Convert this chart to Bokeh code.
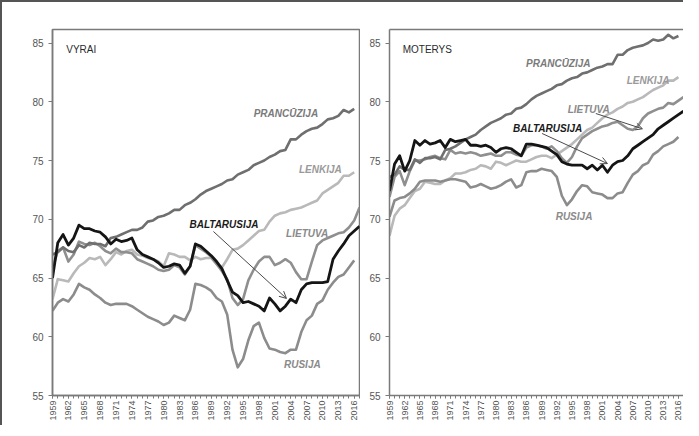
import math
from bokeh.plotting import figure
from bokeh.models import (ColumnDataSource, Range1d, FixedTicker, LinearAxis, Arrow, OpenHead)
from bokeh.layouts import row
from bokeh.core.properties import value
from bokeh.embed import file_html
from bokeh.resources import INLINE

N = None
years = list(range(1959, 2018))
tick_years = list(range(1959, 2017, 3))
y_ticks = [55, 60, 65, 70, 75, 80, 85]

# ---------------- VYRAI (men) ----------------
m_france = [67.0, 67.2, 67.6, 67.3, 67.2, 67.8, 67.6, 68.0, 67.9, 67.9, 67.7, 68.4, 68.5, 68.7, 68.9, 69.1, 69.1, 69.3, 69.8, 69.9,
            70.2, 70.3, 70.5, 70.8, 70.8, 71.2, 71.4, 71.7, 72.1, 72.4, 72.6, 72.8, 73.0, 73.3, 73.4, 73.8, 74.0, 74.2, 74.6, 74.8,
            75.0, 75.3, 75.5, 75.8, 75.9, 76.8, 76.8, 77.2, 77.5, 77.7, 77.8, 78.1, 78.5, 78.6, 78.8, 79.3, 79.1, 79.4, N]
m_belarus = [65.0, 68.0, 68.7, 67.8, 68.4, 69.5, 69.2, 69.2, 69.0, 68.9, 68.5, 67.9, 68.3, 68.1, 68.2, 68.4, 67.4, 67.0, 66.8, 66.6,
             66.3, 65.9, 66.0, 66.2, 66.1, 65.4, 66.0, 67.9, 67.7, 67.3, 66.9, 66.4, 65.8, 64.8, 63.8, 63.5, 62.9, 63.0, 62.8, 62.6,
             62.2, 63.3, 62.8, 62.2, 62.6, 63.2, 62.9, 64.0, 64.5, 64.6, 64.6, 64.6, 64.7, 66.6, 67.3, 67.9, 68.6, 69.0, 69.4]
m_lithuania = [65.8, 67.3, 67.6, 66.4, 67.0, 68.1, 67.9, 67.8, 68.0, 67.7, 67.3, 67.1, 67.5, 67.2, 67.2, 67.1, 66.6, 66.4, 66.2, 66.0,
               65.7, 65.6, 65.7, 66.1, 65.9, 65.3, 66.0, 67.8, 67.5, 67.2, 66.8, 66.2, 65.6, 64.9, 63.3, 62.7, 63.2, 64.8, 65.7, 66.4,
               66.8, 66.8, 66.1, 66.3, 66.6, 66.3, 65.5, 64.9, 64.9, 66.4, 67.8, 68.2, 68.4, 68.6, 68.8, 68.9, 69.3, 69.9, 71.0]
m_poland = [63.2, 64.9, 64.8, 64.7, 65.4, 66.0, 66.3, 66.7, 66.6, 66.8, 66.1, 66.6, 67.2, 67.0, 67.3, 67.4, 67.0, 66.9, 66.7, 66.6,
            66.4, 66.0, 67.1, 67.0, 66.8, 66.8, 66.5, 66.8, 66.6, 66.7, 66.7, 66.2, 65.9, 66.6, 67.4, 67.5, 67.8, 68.2, 68.6, 69.0,
            69.1, 69.8, 70.3, 70.5, 70.6, 70.8, 70.9, 71.0, 71.2, 71.4, 71.6, 72.2, 72.5, 72.8, 73.1, 73.7, 73.7, 74.0, N]
m_russia = [62.2, 62.9, 63.2, 63.0, 63.6, 64.5, 64.2, 64.0, 63.6, 63.3, 62.9, 62.7, 62.8, 62.8, 62.8, 62.6, 62.3, 62.0, 61.7, 61.5,
            61.3, 61.0, 61.2, 61.8, 61.6, 61.4, 62.3, 64.5, 64.4, 64.2, 63.9, 63.3, 63.0, 61.9, 58.9, 57.4, 58.1, 59.7, 60.9, 61.2,
            59.9, 59.0, 58.9, 58.7, 58.6, 58.9, 58.9, 60.4, 61.4, 61.8, 62.8, 63.1, 64.0, 64.6, 65.1, 65.3, 65.9, 66.5, N]

# ---------------- MOTERYS (women) ----------------
w_france = [73.6, 73.8, 74.5, 74.2, 74.2, 75.1, 74.8, 75.2, 75.2, 75.3, 75.1, 75.9, 76.0, 76.2, 76.5, 76.8, 77.0, 77.2, 77.6, 77.9,
            78.2, 78.4, 78.6, 78.9, 79.0, 79.4, 79.5, 79.8, 80.2, 80.5, 80.7, 80.9, 81.1, 81.4, 81.5, 81.8, 82.0, 82.1, 82.4, 82.5,
            82.7, 82.9, 83.0, 83.2, 83.2, 84.0, 84.0, 84.4, 84.6, 84.7, 84.8, 85.0, 85.3, 85.2, 85.3, 85.7, 85.4, 85.6, N]
w_belarus = [72.4, 74.7, 75.4, 74.1, 75.0, 76.7, 76.3, 76.7, 76.4, 76.5, 76.7, 76.1, 76.8, 76.6, 76.7, 76.8, 76.3, 76.3, 76.2, 76.3,
             76.1, 75.7, 76.0, 76.1, 76.0, 75.7, 75.4, 76.4, 76.4, 76.3, 76.2, 76.1, 75.8, 75.5, 74.9, 74.7, 74.6, 74.6, 74.6, 74.3,
             74.6, 74.2, 74.6, 74.0, 74.6, 74.9, 75.0, 75.4, 76.0, 76.3, 76.6, 76.9, 77.2, 77.7, 78.0, 78.3, 78.6, 78.9, 79.2]
w_lithuania = [71.9, 73.6, 74.1, 72.9, 74.1, 75.0, 75.0, 75.1, 75.3, 75.4, 75.2, 75.1, 75.9, 75.6, 75.7, 75.6, 75.7, 75.6, 75.4, 75.5,
               75.6, 75.4, 75.4, 75.7, 75.7, 75.5, 75.4, 76.1, 76.3, 76.3, 76.2, 76.0, 76.2, 75.8, 75.2, 74.8, 75.3, 76.2, 76.9, 77.2,
               77.5, 77.7, 77.9, 78.0, 78.2, 78.3, 78.0, 77.7, 77.6, 77.9, 78.6, 79.0, 79.2, 79.4, 79.5, 79.9, 79.8, 80.1, 80.4]
w_poland = [68.6, 70.3, 70.9, 71.2, 71.8, 72.4, 72.6, 73.2, 73.1, 73.0, 73.0, 73.3, 73.5, 73.9, 73.9, 74.0, 74.2, 74.3, 74.6, 74.5,
            74.3, 74.9, 74.8, 74.6, 74.8, 75.0, 74.9, 74.9, 75.1, 75.3, 75.4, 75.4, 75.2, 75.5, 75.8, 76.1, 76.4, 76.8, 77.2, 77.6,
            77.8, 78.2, 78.6, 78.9, 79.1, 79.4, 79.6, 79.9, 80.0, 80.2, 80.4, 80.7, 81.0, 81.2, 81.4, 81.8, 81.8, 82.1, N]
w_russia = [70.2, 71.6, 71.8, 71.9, 72.2, 72.6, 73.2, 73.3, 73.3, 73.3, 73.2, 73.3, 73.4, 73.4, 73.3, 73.2, 72.7, 72.8, 73.0, 72.8,
            72.6, 72.7, 72.9, 73.2, 73.4, 72.7, 72.9, 74.0, 74.1, 74.1, 74.3, 74.2, 74.1, 73.6, 72.0, 71.2, 71.7, 72.4, 72.9, 72.8,
            72.3, 72.2, 72.1, 71.8, 71.8, 72.2, 72.3, 73.1, 73.8, 74.1, 74.6, 74.8, 75.5, 75.8, 76.2, 76.4, 76.6, 77.0, N]

series_names = ["LENKIJA", "RUSIJA", "LIETUVA", "PRANCŪZIJA", "BALTARUSIJA"]
series_colors = ["#b9b9b9", "#8c8c8c", "#8f8f8f", "#6f6f6f", "#151515"]
series_widths = [2.6, 2.6, 2.6, 2.6, 2.8]

# label annotations (year, value)
m_label_text = ["PRANCŪZIJA", "LENKIJA", "LIETUVA", "BALTARUSIJA", "RUSIJA"]
m_label_x = [2003.1, 2009.6, 2007.1, 1991.4, 2006.2]
m_label_y = [79.0, 74.2, 68.8, 69.55, 57.6]
m_label_color = ["#7a7a7a", "#9a9a9a", "#8a8a8a", "#1a1a1a", "#8a8a8a"]
w_label_text = ["PRANCŪZIJA", "LENKIJA", "LIETUVA", "BALTARUSIJA", "RUSIJA"]
w_label_x = [1992.3, 2010.0, 1998.3, 1990.2, 1995.4]
w_label_y = [83.26, 81.8, 79.3, 77.7, 70.2]
w_label_color = ["#7a7a7a", "#9a9a9a", "#8a8a8a", "#1a1a1a", "#8a8a8a"]
# arrows: (x0, y0, x1, y1)
m_arrows = [(1989.4, 68.96, 2003.2, 63.26)]
w_arrows = [(1999.7, 79.0, 2008.9, 77.7), (1989.1, 77.3, 2002.0, 74.74)]

FONT = "Liberation Sans"
AX = "#7a7a7a"


def nanify(v):
    return [float("nan") if a is None else a for a in v]


def make_panel(title, data, ltext, lx, ly, lcol, arrows, left_border, frame_w, right_border, show_outline):
    p = figure(frame_width=frame_w, frame_height=366, output_backend="svg", toolbar_location=None,
               x_range=Range1d(1959, 2017), y_range=Range1d(55, 86.15),
               min_border_left=left_border, min_border_right=right_border,
               min_border_top=27, min_border_bottom=30)
    p.grid.visible = False
    p.background_fill_color = "white"
    p.border_fill_color = "white"

    xa = p.below[0]
    xa.ticker = FixedTicker(ticks=tick_years, minor_ticks=years)
    xa.major_label_orientation = math.pi / 2
    xa.major_label_text_font = FONT
    xa.major_label_text_font_size = "9px"
    xa.major_label_text_color = "#555555"
    xa.major_tick_out = 3
    xa.major_tick_in = 0
    xa.minor_tick_out = 3
    xa.minor_tick_in = 0
    xa.major_tick_line_color = AX
    xa.minor_tick_line_color = AX
    xa.axis_line_color = AX
    xa.axis_line_width = 1.5
    xa.major_label_standoff = 2

    ya = p.left[0]
    ya.ticker = FixedTicker(ticks=y_ticks)
    ya.major_label_text_font = FONT
    ya.major_label_text_font_size = "10px"
    ya.major_label_text_color = "#555555"
    ya.major_tick_out = 4
    ya.major_tick_in = 0
    ya.minor_tick_line_color = None
    ya.major_tick_line_color = AX
    ya.axis_line_color = AX
    ya.axis_line_width = 1.5
    ya.major_label_standoff = 5

    if show_outline:
        p.outline_line_color = AX
        p.outline_line_width = 1.5
    else:
        p.outline_line_color = None
        top = LinearAxis(ticker=FixedTicker(ticks=[]), major_label_text_font_size="0px",
                         major_tick_out=0, minor_tick_out=0, major_tick_in=0, minor_tick_in=0,
                         major_label_standoff=0, axis_line_color=AX, axis_line_width=1.5)
        p.add_layout(top, "above")

    src = {"year": years}
    for name, vals in zip(series_names, data):
        src[name] = nanify(vals)
    cds = ColumnDataSource(src)
    for name, col, w in zip(series_names, series_colors, series_widths):
        p.line("year", name, source=cds, line_color=col, line_width=w, line_join="round")

    lsrc = ColumnDataSource(dict(x=lx, y=ly, t=ltext, c=lcol))
    p.text(x="x", y="y", text="t", source=lsrc, text_color="c", text_font=value(FONT),
           text_font_style="bold italic", text_font_size="10px", text_align="center",
           text_baseline="middle")
    p.text(x=[1961.6], y=[84.45], text=[title], text_color="#2a2a2a", text_font=value(FONT),
           text_font_size="10px", text_align="left", text_baseline="middle")
    for (x0, y0, x1, y1) in arrows:
        p.add_layout(Arrow(x_start=x0, y_start=y0, x_end=x1, y_end=y1, line_color="#4a4a4a", line_width=1,
                           end=OpenHead(size=7, line_color="#4a4a4a", line_width=1)))
    return p


p1 = make_panel("VYRAI", [m_poland, m_russia, m_lithuania, m_france, m_belarus],
                m_label_text, m_label_x, m_label_y, m_label_color, m_arrows, 50, 307, 1, True)
p2 = make_panel("MOTERYS", [w_poland, w_russia, w_lithuania, w_france, w_belarus],
                w_label_text, w_label_x, w_label_y, w_label_color, w_arrows, 29, 294, 0, False)

p = row(p1, p2,
        styles={"border-left": "2px solid #555555", "border-top": "2px solid #555555",
                "background-color": "white"})

open("out.html", "w").write(file_html(p, INLINE))
